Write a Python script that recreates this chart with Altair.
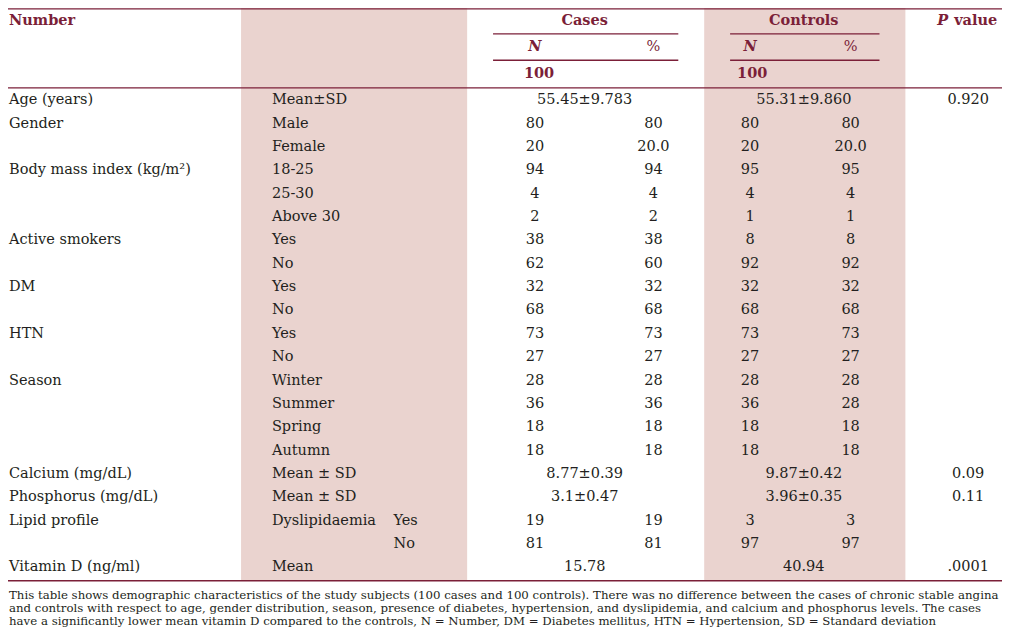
import altair as alt
import pandas as pd

# ---------------- data ----------------
row_labels = ["Age (years)", "Gender", "", "Body mass index (kg/m\u00b2)", "", "",
              "Active smokers", "", "DM", "", "HTN", "", "Season", "", "", "",
              "Calcium (mg/dL)", "Phosphorus (mg/dL)", "Lipid profile", "", "Vitamin D (ng/ml)"]
sub_labels = ["Mean\u00b1SD", "Male", "Female", "18-25", "25-30", "Above 30",
              "Yes", "No", "Yes", "No", "Yes", "No", "Winter", "Summer", "Spring", "Autumn",
              "Mean \u00b1 SD", "Mean \u00b1 SD", "Dyslipidaemia", "", "Mean"]
sub2_labels = [""] * 18 + ["Yes", "No", ""]
cases_n = ["", "80", "20", "94", "4", "2", "38", "62", "32", "68", "73", "27",
           "28", "36", "18", "18", "", "", "19", "81", ""]
cases_pct = ["", "80", "20.0", "94", "4", "2", "38", "60", "32", "68", "73", "27",
             "28", "36", "18", "18", "", "", "19", "81", ""]
ctrl_n = ["", "80", "20", "95", "4", "1", "8", "92", "32", "68", "73", "27",
          "28", "36", "18", "18", "", "", "3", "97", ""]
ctrl_pct = ["", "80", "20.0", "95", "4", "1", "8", "92", "32", "68", "73", "27",
            "28", "28", "18", "18", "", "", "3", "97", ""]
cases_merged = ["55.45\u00b19.783"] + [""] * 15 + ["8.77\u00b10.39", "3.1\u00b10.47", "", "", "15.78"]
ctrl_merged = ["55.31\u00b19.860"] + [""] * 15 + ["9.87\u00b10.42", "3.96\u00b10.35", "", "", "40.94"]
p_values = ["0.920"] + [""] * 15 + ["0.09", "0.11", "", "", ".0001"]

footnote = [
    "This table shows demographic characteristics of the study subjects (100 cases and 100 controls). There was no difference between the cases of chronic stable angina",
    "and controls with respect to age, gender distribution, season, presence of diabetes, hypertension, and dyslipidemia, and calcium and phosphorus levels. The cases",
    "have a significantly lower mean vitamin D compared to the controls, N = Number, DM = Diabetes mellitus, HTN = Hypertension, SD = Standard deviation",
]

# ---------------- layout ----------------
W, H = 994, 623
XS = alt.Scale(domain=[6, 1004], nice=False, zero=False)
YS = alt.Scale(domain=[633, 1], nice=False, zero=False)
FONT = "DejaVu Serif"
RED = "#7b1f38"
INK = "#231f20"
SHADE = "#ead3cf"
FS = 14.5
ROW_Y0, ROW_DY = 94.5, 23.7

col_x = {"label": 7, "sub": 271, "sub2": 393, "cn": 535, "cp": 654,
         "tn": 751, "tp": 852, "cm": 585, "tm": 805, "p": 970}


def text_layer(items, align="left", weight="normal", style="normal", color=INK, size=FS):
    df = pd.DataFrame(items, columns=["x", "y", "t"])
    df = df[df["t"] != ""]
    return alt.Chart(df).mark_text(align=align, baseline="middle", font=FONT,
                                   fontSize=size, fontWeight=weight, fontStyle=style,
                                   color=color).encode(
        x=alt.X("x:Q", scale=XS, axis=None),
        y=alt.Y("y:Q", scale=YS, axis=None),
        text="t:N")


rows_y = [ROW_Y0 + i * ROW_DY for i in range(len(row_labels))]

left_items = []
for i, y in enumerate(rows_y):
    left_items.append((col_x["label"], y, row_labels[i]))
    left_items.append((col_x["sub"], y, sub_labels[i]))
    left_items.append((col_x["sub2"], y, sub2_labels[i]))

center_items = []
for i, y in enumerate(rows_y):
    center_items += [(col_x["cn"], y, cases_n[i]), (col_x["cp"], y, cases_pct[i]),
                     (col_x["tn"], y, ctrl_n[i]), (col_x["tp"], y, ctrl_pct[i]),
                     (col_x["cm"], y, cases_merged[i]), (col_x["tm"], y, ctrl_merged[i]),
                     (col_x["p"], y, p_values[i])]

shade_df = pd.DataFrame({"x": [240, 705], "x2": [467, 907], "y": [0, 0], "y2": [582, 582]})
shades = alt.Chart(shade_df).mark_rect(color=SHADE).encode(
    x=alt.X("x:Q", scale=XS, axis=None), x2="x2:Q",
    y=alt.Y("y:Q", scale=YS, axis=None), y2="y2:Q")

rule_df = pd.DataFrame({
    "x": [0, 493, 731, 493, 731, 0, 0],
    "x2": [1010, 679, 881, 679, 881, 1010, 1010],
    "y": [1.8, 27.3, 27.3, 54, 54, 82, 582],
})
rules = alt.Chart(rule_df).mark_rule(color=RED, strokeWidth=1.3).encode(
    x=alt.X("x:Q", scale=XS, axis=None), x2="x2:Q",
    y=alt.Y("y:Q", scale=YS, axis=None))

header_bold = text_layer([(7, 14, "Number"), (956, 14, "value")],
                         weight="bold", color=RED)
header_center = text_layer([(585, 14, "Cases"), (805, 14, "Controls")],
                           align="center", weight="bold", color=RED)
header_italic = text_layer([(939, 14, "P")], weight="bold", style="italic", color=RED)
header_n = text_layer([(535, 41, "N"), (751, 41, "N")], align="center",
                      weight="bold", style="italic", color=RED)
header_pct = text_layer([(654, 41, "%"), (852, 41, "%")], align="center", color=RED)
header_100 = text_layer([(524, 68, "100"), (738, 68, "100")], weight="bold", color=RED)

body_left = text_layer(left_items)
body_center = text_layer(center_items, align="center")
foot = text_layer([(7, 596 + 13.6 * i, s) for i, s in enumerate(footnote)], size=11.75)

chart = alt.layer(shades, rules, header_bold, header_center, header_italic, header_n,
                  header_pct, header_100, body_left, body_center, foot).properties(
    width=W, height=H, padding=0, autosize="none",
    background="white").configure_view(stroke=None)

chart.save("out.html", embed_options={"renderer": "svg", "actions": False})
